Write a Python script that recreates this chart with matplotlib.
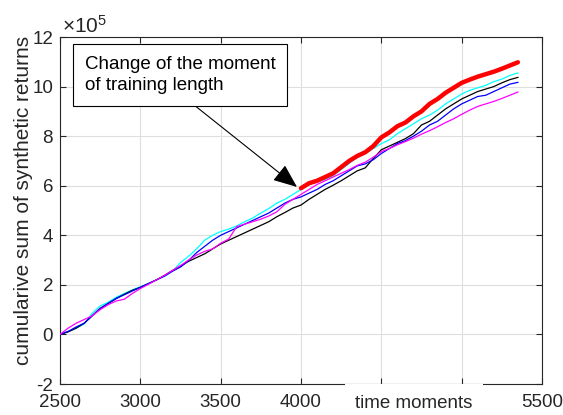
import matplotlib
matplotlib.use("Agg")
import matplotlib.pyplot as plt
import numpy as np

plt.rcParams['font.family'] = ['Liberation Sans', 'DejaVu Sans']
plt.rcParams['mathtext.fontset'] = 'custom'
plt.rcParams['mathtext.rm'] = 'Liberation Sans'
plt.rcParams['mathtext.default'] = 'regular'

# ---- data (values in units of 1e5) ----
t = list(range(2500, 5351, 50))

cyan = [0.0, 0.12, 0.25, 0.42, 0.85, 1.15, 1.3, 1.5, 1.65, 1.8,
        1.92, 2.05, 2.2, 2.35, 2.55, 2.9, 3.15, 3.45, 3.8, 4.0,
        4.15, 4.25, 4.38, 4.55, 4.7, 4.9, 5.08, 5.3, 5.45, 5.65,
        5.85, 6.05, 6.15, 6.25, 6.4, 6.65, 6.9, 7.15, 7.3, 7.5,
        7.7, 7.85, 8.1, 8.3, 8.5, 8.7, 8.85, 9.05, 9.3, 9.5,
        9.7, 9.85, 9.95, 10.05, 10.2, 10.3, 10.45, 10.55]

blue = [0.0, 0.12, 0.3, 0.45, 0.75, 1.05, 1.25, 1.45, 1.6, 1.75,
        1.9, 2.05, 2.2, 2.35, 2.55, 2.72, 2.98, 3.3, 3.55, 3.8,
        4.0, 4.15, 4.3, 4.45, 4.6, 4.75, 4.9, 5.1, 5.3, 5.45,
        5.55, 5.7, 5.85, 6.05, 6.2, 6.4, 6.6, 6.8, 6.88, 7.05,
        7.3, 7.5, 7.7, 7.82, 8.0, 8.2, 8.45, 8.6, 8.85, 9.1,
        9.3, 9.45, 9.6, 9.65, 9.8, 9.95, 10.1, 10.17]

black = [0.0, 0.1, 0.25, 0.45, 0.75, 1.05, 1.25, 1.45, 1.62, 1.78,
         1.9, 2.05, 2.2, 2.38, 2.58, 2.75, 2.95, 3.1, 3.25, 3.45,
         3.65, 3.8, 3.95, 4.1, 4.25, 4.4, 4.55, 4.75, 4.92, 5.1,
         5.22, 5.45, 5.65, 5.85, 6.02, 6.2, 6.4, 6.6, 6.72, 7.1,
         7.45, 7.6, 7.75, 7.9, 8.1, 8.45, 8.6, 8.85, 9.1, 9.3,
         9.5, 9.65, 9.8, 9.9, 10.0, 10.15, 10.28, 10.37]

magenta = [0.0, 0.25, 0.45, 0.6, 0.75, 1.0, 1.2, 1.35, 1.42, 1.65,
           1.85, 2.02, 2.2, 2.38, 2.58, 2.78, 3.0, 3.2, 3.35, 3.45,
           3.68, 3.85, 4.35, 4.45, 4.55, 4.65, 4.78, 4.95, 5.25, 5.45,
           5.65, 5.85, 6.05, 6.2, 6.35, 6.5, 6.65, 6.82, 6.95, 7.15,
           7.38, 7.5, 7.65, 7.78, 7.92, 8.08, 8.22, 8.38, 8.55, 8.7,
           8.88, 9.05, 9.2, 9.3, 9.4, 9.52, 9.65, 9.78]

t_red = list(range(4000, 5351, 50))
red = [5.9, 6.1, 6.2, 6.35, 6.5, 6.75, 7.0, 7.2, 7.35, 7.6,
       7.95, 8.15, 8.4, 8.55, 8.8, 9.0, 9.3, 9.5, 9.75, 9.95,
       10.15, 10.28, 10.4, 10.5, 10.6, 10.72, 10.85, 10.98]

xticks = [2500, 3000, 3500, 4000, 4500, 5000, 5500]
# 4500 and 5000 labels are hidden behind the x-axis label in the original
xticklabels = ['2500', '3000', '3500', '4000', '', '', '5500']
yticks = [-2, 0, 2, 4, 6, 8, 10, 12]

SCALE = 1e5

fig = plt.figure(figsize=(5.63, 4.15), dpi=100)
ax = fig.add_axes([60/563, 1-384/415, 482/563, 347/415])

axc = '#262626'
lw = 0.9
ax.plot(t, np.array(cyan)*SCALE, color='#00ffff', lw=lw, zorder=3)
ax.plot(t, np.array(black)*SCALE, color='black', lw=lw, zorder=3)
ax.plot(t, np.array(blue)*SCALE, color='#0000ff', lw=lw, zorder=3)
ax.plot(t, np.array(magenta)*SCALE, color='#ff00ff', lw=lw, zorder=3)
ax.plot(t_red, np.array(red)*SCALE, color='#ff0000', lw=3.2, zorder=4,
        solid_capstyle='round')

ax.set_xlim(2500, 5500)
ax.set_ylim(-2*SCALE, 12*SCALE)
ax.set_xticks(xticks)
ax.set_xticklabels(xticklabels)
ax.set_yticks([v*SCALE for v in yticks])
ax.set_yticklabels([str(v) for v in yticks])

ax.grid(True, color='#dedede', lw=0.8)
ax.set_axisbelow(True)
ax.tick_params(direction='in', length=4, width=0.8, colors=axc,
               labelsize=13.5, top=True, right=True)
ax.tick_params(axis='x', pad=7)
ax.tick_params(axis='y', pad=5)
for s in ax.spines.values():
    s.set_color(axc)
    s.set_linewidth(0.8)

# exponent text
ax.text(0.004, 1.0135, r'$\times10^{5}$', transform=ax.transAxes,
        fontsize=15, color=axc, ha='left', va='baseline')

# y label
ax.set_ylabel('cumularive sum of synthetic returns', fontsize=15, color=axc,
              va='center')
ax.yaxis.set_label_coords(-0.076, 0.53)

# x label with white background covering the axis line
ax.text(0.734, -0.055, 'time moments', transform=ax.transAxes,
        fontsize=13.5, color=axc, ha='center', va='center', zorder=20,
        clip_on=False,
        bbox=dict(boxstyle='square,pad=0.55', fc='white', ec='none'))

# annotation
ax.annotate('Change of the moment\nof training length',
            xy=(3975, 5.95*SCALE), xytext=(2656, 11.25*SCALE),
            fontsize=13.5, color='black', ha='left', va='top',
            linespacing=1.35,
            bbox=dict(boxstyle='square,pad=0.62', fc='white', ec='black', lw=0.8),
            arrowprops=dict(arrowstyle='-|>,head_length=1.1,head_width=0.45',
                            color='black', lw=0.8, shrinkA=0, shrinkB=0,
                            relpos=(0.5, 0)),
            zorder=10)

fig.savefig('out.png', dpi=100)
